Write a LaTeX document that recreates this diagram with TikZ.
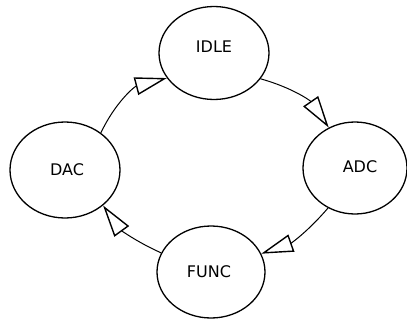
\documentclass[tikz,border=0pt]{standalone}
\usepackage{fontspec}
\setmainfont{DejaVu Sans}
\usetikzlibrary{arrows.meta,shapes.geometric}

\begin{document}
\begin{tikzpicture}[x=1pt, y=-1pt,
  every node/.style={font=\fontsize{16}{18}\selectfont},
  state/.style={ellipse, draw=black, line width=1.3pt, fill=white, inner sep=0pt},
  trans/.style={line width=1pt, -{Triangle[open, length=32pt, width=18pt, line width=1.4pt]}}]
\useasboundingbox (0,0) rectangle (407,324);
% states
\node[state, minimum width=110pt, minimum height=93pt] (idle) at (214,53) {};
\node[state, minimum width=110pt, minimum height=96pt] (dac) at (65,170) {};
\node[state, minimum width=104pt, minimum height=92pt] (adc) at (355,168) {};
\node[state, minimum width=108pt, minimum height=92pt] (func) at (211,272) {};
\node at (214,47) {IDLE};
\node at (67,170) {DAC};
\node at (360,167) {ADC};
\node at (209,272) {FUNC};
% transitions
\draw[trans] (idle.-29) to[bend left=20] (adc.123);
\draw[trans] (adc.236) to[bend left=15] (func.20);
\draw[trans] (func.159) to[bend left=15] (dac.-43);
\draw[trans] (dac.46) to[bend left=25] (idle.208);
\end{tikzpicture}
\end{document}
